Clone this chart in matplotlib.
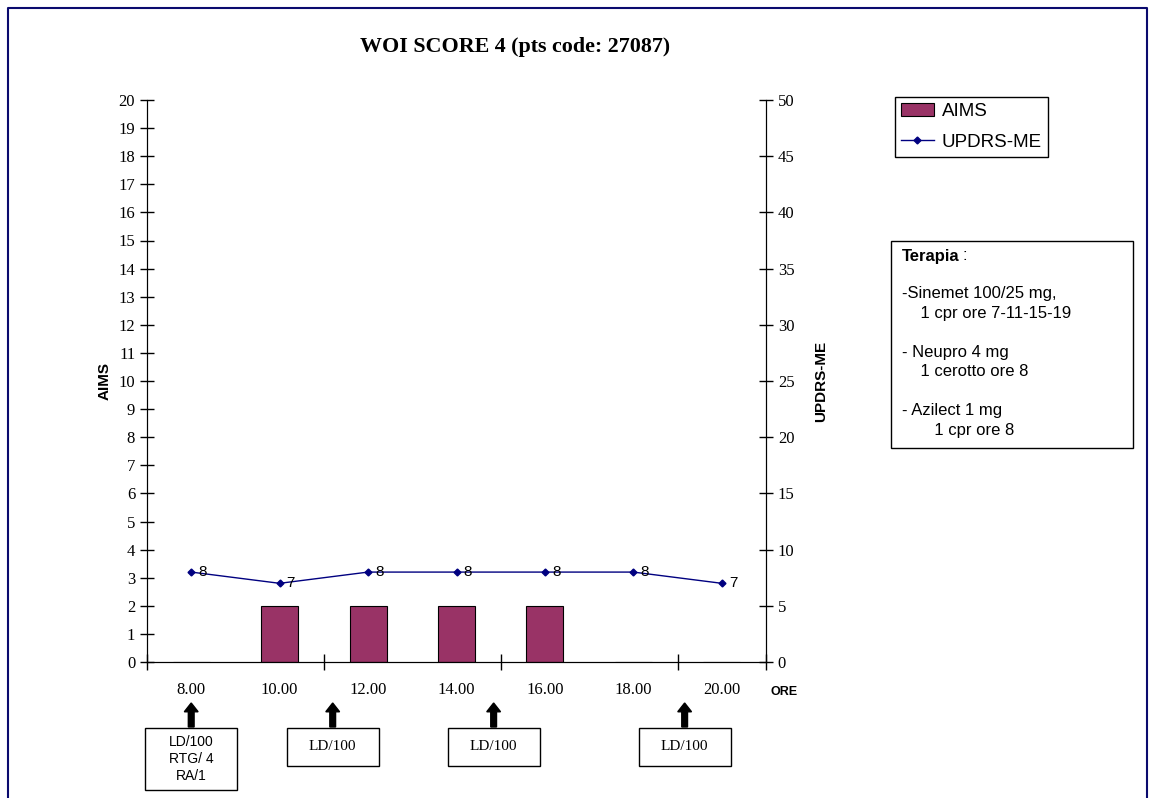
import matplotlib.pyplot as plt
import numpy as np
from matplotlib.patches import Rectangle, FancyArrow

# data
ore = ['8.00', '10.00', '12.00', '14.00', '16.00', '18.00', '20.00']
aims = [0, 2, 2, 2, 2, 0, 0]
updrs = [8, 7, 8, 8, 8, 8, 7]

# drug administration boxes (position on category scale, text)
dose_pos = [0.0, 1.6, 3.42, 5.58]
dose_txt = ['LD/100\nRTG/ 4\nRA/1', 'LD/100', 'LD/100', 'LD/100']
dose_font = ['sans', 'serif', 'serif', 'serif']

terapia = ['-Sinemet 100/25 mg,', '    1 cpr ore 7-11-15-19', '',
           '- Neupro 4 mg', '    1 cerotto ore 8', '',
           '- Azilect 1 mg', '       1 cpr ore 8']

SERIF = 'Liberation Serif'
SANS = 'Liberation Sans'

fig = plt.figure(figsize=(11.5, 7.98), dpi=100)
W, H = 1150, 798

def fx(px):
    return px / W

def fy(py):
    return 1 - py / H

# navy frame around the sheet
fig.add_artist(plt.Line2D([fx(8), fx(8), fx(1147), fx(1147)],
                          [0, fy(8), fy(8), 0], color='#0a0a6e', lw=1.5))

ax = fig.add_axes([fx(147), fy(662), fx(766 - 147), (662 - 100) / H])
x = np.arange(len(ore))

ax.bar(x, aims, width=0.42, color='#993366', edgecolor='black', lw=0.8,
       label='AIMS', zorder=2)
ax.set_xlim(-0.5, len(ore) - 0.5)
ax.set_ylim(0, 20)
ax.set_yticks(range(0, 21))
ax.set_xticks([-0.5, 1.5, 3.5, 5.5, 6.5])
ax.set_xticklabels([])
ax.tick_params(axis='x', direction='inout', length=12, width=1)
ax.tick_params(axis='y', direction='inout', length=10, width=1, labelsize=12)
for lab in ax.get_yticklabels():
    lab.set_fontfamily(SERIF)
for i, t in enumerate(ore):
    ax.text(i, -1.0, t, ha='center', va='center', fontsize=12, family=SERIF)
ax.text(len(ore) - 0.45, -1.05, 'ORE', ha='left', va='center', fontsize=9,
        fontweight='bold', family=SANS)
ax.spines['top'].set_visible(False)
ax.set_ylabel('AIMS', fontsize=11, fontweight='bold', family=SANS, labelpad=5)

ax2 = ax.twinx()
ax2.plot(x, updrs, color='#000080', lw=1, marker='D', ms=3.5,
         label='UPDRS-ME', zorder=3)
ax2.set_ylim(0, 50)
ax2.set_yticks(range(0, 51, 5))
ax2.tick_params(axis='y', direction='inout', length=10, width=1, labelsize=12)
for lab in ax2.get_yticklabels():
    lab.set_fontfamily(SERIF)
ax2.spines['top'].set_visible(False)
for i, v in enumerate(updrs):
    ax2.text(i + 0.08, v, str(v), ha='left', va='center', fontsize=11, family=SANS)
ax2.set_ylabel('UPDRS-ME', fontsize=11, fontweight='bold', family=SANS, labelpad=14)

fig.text(fx(515), fy(47), 'WOI SCORE 4 (pts code: 27087)',
         ha='center', va='center', fontsize=15.8, fontweight='bold', family=SERIF)

# legend
h1, l1 = ax.get_legend_handles_labels()
h2, l2 = ax2.get_legend_handles_labels()
leg = fig.legend(h1 + h2, l1 + l2, loc='upper left', bbox_to_anchor=(fx(895), fy(97)),
                 fancybox=False, edgecolor='black', framealpha=1,
                 prop={'family': SANS, 'size': 13.5}, handlelength=1.8,
                 borderpad=0.3, labelspacing=0.75, handletextpad=0.4,
                 borderaxespad=0)
leg.get_frame().set_linewidth(1)

# terapia box
fig.add_artist(Rectangle((fx(891), fy(448)), fx(1133 - 891), (448 - 241) / H,
                         fill=False, edgecolor='black', lw=1))
fig.text(fx(902), fy(256), 'Terapia', fontsize=12, fontweight='bold', family=SANS, va='center')
fig.text(fx(962), fy(256), ':', fontsize=12, family=SANS, va='center')
fig.text(fx(902), fy(286), '\n'.join(terapia), fontsize=12, family=SANS, va='top',
         linespacing=1.38)

# dose boxes with arrows
box_h = [62, 38, 38, 38]
for p, t, f, bh in zip(dose_pos, dose_txt, dose_font, box_h):
    cx = 147 + (p + 0.5) * (766 - 147) / len(ore)
    fig.add_artist(FancyArrow(fx(cx), fy(727), 0, (727 - 703) / H, width=0.005,
                              head_width=0.012, head_length=0.011,
                              length_includes_head=True, color='black'))
    fig.add_artist(Rectangle((fx(cx - 46), fy(728 + bh)), fx(92), bh / H,
                             fill=False, edgecolor='black', lw=1))
    fam = SANS if f == 'sans' else SERIF
    fs = 10 if f == 'sans' else 11
    fig.text(fx(cx), fy(728 + bh / 2), t, ha='center', va='center', fontsize=fs,
             family=fam, linespacing=1.25)

fig.savefig('out.png', dpi=100)
